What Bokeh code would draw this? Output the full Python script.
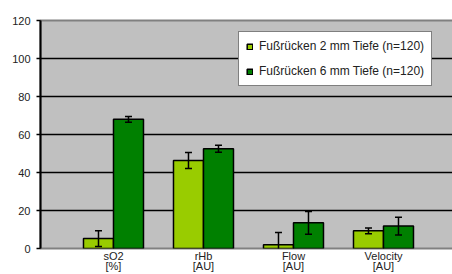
from bokeh.plotting import figure
from bokeh.models import Range1d, FixedTicker, ColumnDataSource, Legend, LegendItem
from bokeh.embed import file_html
from bokeh.resources import INLINE

categories = ["sO2\n[%]", "rHb\n[AU]", "Flow\n[AU]", "Velocity\n[AU]"]
series_names = ["Fußrücken 2 mm Tiefe (n=120)", "Fußrücken 6 mm Tiefe (n=120)"]
values_2mm = [5.2, 46.3, 2.0, 9.3]
errors_2mm = [4.2, 4.2, 6.4, 1.5]
values_6mm = [68.0, 52.5, 13.5, 11.8]
errors_6mm = [1.5, 1.9, 6.0, 4.7]
y_ticks = [0, 20, 40, 60, 80, 100, 120]

FONT = "Liberation Sans"
LIGHT = "#99CC00"
DARK = "#008000"

idx = list(range(1, len(categories) + 1))
bw = 1 / 3

p = figure(frame_width=416, height=274, output_backend="svg", toolbar_location=None,
           x_range=Range1d(0.189, 0.189 + 416 / 90), y_range=Range1d(0, 120),
           min_border_left=40, min_border_top=20, min_border_right=0, min_border_bottom=0)
p.background_fill_color = "#C0C0C0"
p.border_fill_color = "white"
p.outline_line_color = "#808080"
p.outline_line_width = 2

p.xgrid.visible = False
p.ygrid.ticker = FixedTicker(ticks=[t for t in y_ticks if 0 < t < 120])
p.ygrid.grid_line_color = "black"
p.ygrid.grid_line_width = 1.5

renderers = []
for vals, errs, off, col in [(values_2mm, errors_2mm, -bw / 2, LIGHT), (values_6mm, errors_6mm, bw / 2, DARK)]:
    xs = [i + off for i in idx]
    src = ColumnDataSource(dict(x=xs, top=vals,
                                lo=[v - e for v, e in zip(vals, errs)],
                                hi=[v + e for v, e in zip(vals, errs)]))
    r = p.vbar(x="x", top="top", width=bw, source=src, fill_color=col,
               line_color="black", line_width=1.5)
    renderers.append(r)
    p.segment(x0="x", y0="lo", x1="x", y1="hi", source=src, line_color="black", line_width=1.5)
    p.scatter(x="x", y="hi", marker="dash", size=7, source=src, line_color="black", line_width=1.5)
    p.scatter(x="x", y="lo", marker="dash", size=7, source=src, line_color="black", line_width=1.5)

yax = p.yaxis[0]
yax.ticker = FixedTicker(ticks=y_ticks)
yax.axis_line_color = "black"
yax.axis_line_width = 2
yax.major_tick_line_color = "black"
yax.major_tick_line_width = 1.5
yax.major_tick_in = 0
yax.major_tick_out = 4
yax.minor_tick_line_color = None
yax.major_label_standoff = 6
yax.major_label_text_font = FONT
yax.major_label_text_font_size = "11px"
yax.major_label_text_color = "#222222"

xax = p.xaxis[0]
xax.ticker = FixedTicker(ticks=idx)
xax.major_label_overrides = {i: c for i, c in zip(idx, categories)}
xax.axis_line_color = None
xax.major_tick_line_color = None
xax.major_tick_in = 0
xax.major_tick_out = 0
xax.minor_tick_line_color = None
xax.major_label_standoff = 1
xax.major_label_text_line_height = 0.85
xax.major_label_text_font = FONT
xax.major_label_text_font_size = "11px"
xax.major_label_text_color = "#222222"

legend = Legend(items=[LegendItem(label=n, renderers=[r]) for n, r in zip(series_names, renderers)],
                location=(198, 162), orientation="vertical")
legend.border_line_color = "black"
legend.border_line_width = 1.5
legend.background_fill_color = "white"
legend.background_fill_alpha = 1
legend.padding = 7
legend.spacing = 11
legend.margin = 0
legend.glyph_width = 7
legend.glyph_height = 7
legend.label_height = 12
legend.label_standoff = 6
legend.label_text_font = FONT
legend.label_text_font_size = "12px"
legend.label_text_color = "#222222"
p.add_layout(legend)

open("out.html", "w").write(file_html(p, INLINE))
